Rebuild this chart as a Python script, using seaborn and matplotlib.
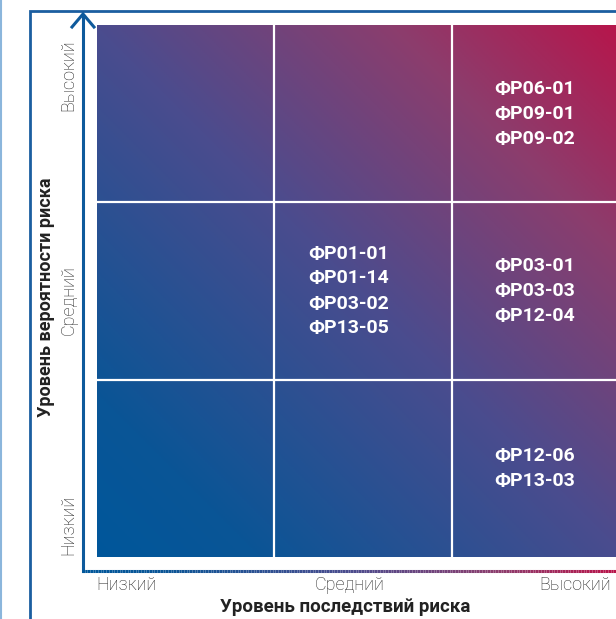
import numpy as np
import pandas as pd
import matplotlib.pyplot as plt
import seaborn as sns
from matplotlib.colors import LinearSegmentedColormap, ListedColormap
from matplotlib.collections import LineCollection

# Уровни риска
consequence_levels = ["Низкий", "Средний", "Высокий"]
probability_levels = ["Высокий", "Средний", "Низкий"]  # сверху вниз

# Риски в ячейках матрицы (строка = вероятность, столбец = последствия)
cell_risks = {
    ("Высокий", "Высокий"): ["ФР06-01", "ФР09-01", "ФР09-02"],
    ("Средний", "Средний"): ["ФР01-01", "ФР01-14", "ФР03-02", "ФР13-05"],
    ("Средний", "Высокий"): ["ФР03-01", "ФР03-03", "ФР12-04"],
    ("Низкий", "Высокий"): ["ФР12-06", "ФР13-03"],
}

counts = pd.DataFrame(0, index=probability_levels, columns=consequence_levels)
labels = pd.DataFrame("", index=probability_levels, columns=consequence_levels)
for (p, c), risks in cell_risks.items():
    counts.loc[p, c] = len(risks)
    labels.loc[p, c] = "\n".join(risks)

W, H = 616, 619
fig = plt.figure(figsize=(W / 100, H / 100), dpi=100)

# градиент фона: синий -> фиолетовый -> малиновый
grad_cmap = LinearSegmentedColormap.from_list(
    "risk", [(0.0, "#00579b"), (0.15, "#0a5596"), (0.5, "#4b4c8e"),
             (0.78, "#8c3d6d"), (1.0, "#b8144a")])

# область матрицы (в пикселях)
x0, y0, side = 97, 25, 532
ax = fig.add_axes([x0 / W, (H - y0 - side) / H, side / W, side / H])

sns.heatmap(counts, annot=labels, fmt="", cmap=ListedColormap([(0, 0, 0, 0)]),
            cbar=False, linewidths=0, ax=ax,
            annot_kws={"color": "white", "fontsize": 14, "fontweight": "bold",
                       "family": "Roboto", "linespacing": 1.5})

gx, gy = np.meshgrid(np.linspace(0, 1, 300), np.linspace(0, 1, 300))
ax.imshow((gx + (1 - gy)) / 2, cmap=grad_cmap, extent=[0, 3, 3, 0],
          aspect="auto", zorder=0)
ax.set_xlim(0, 3)
ax.set_ylim(3, 0)
ax.patch.set_visible(False)

for v in [1, 2]:
    ax.axvline(v, color="white", lw=1.6)
    ax.axhline(v, color="white", lw=1.6)

# подписи сдвинуты левее центра ячейки
for t in ax.texts:
    x, y = t.get_position()
    if 1 < x < 2:
        t.set_x(x - 0.08)
    elif x > 2:
        t.set_x(x - 0.03)

ax.set_xticks([0.164, 1.427, 2.696])
ax.set_xticklabels(consequence_levels)
ax.set_yticks([0.282, 1.551, 2.82])
ax.set_yticklabels(probability_levels, rotation=90, va="center")
ax.tick_params(length=0, pad=14, labelsize=13, labelcolor="#262626")
for lab in ax.get_xticklabels() + ax.get_yticklabels():
    lab.set_family("Roboto")
    lab.set_fontweight("light")
ax.set_xlabel("")
ax.set_ylabel("")
for s in ax.spines.values():
    s.set_visible(False)

# оверлей для рамки и стрелок (координаты в пикселях)
ov = fig.add_axes([0, 0, 1, 1], zorder=-1)
ov.set_xlim(0, W)
ov.set_ylim(H, 0)
ov.axis("off")

ov.plot([1, 1], [0, H], color="#8bb6dc", lw=1.5)
ov.plot([30, 30, W], [H, 11, 11], color="#1b5ea0", lw=2, solid_joinstyle="miter")
ov.plot([83, 83], [571, 15], color="#0e5a9c", lw=2.2)
ov.plot([72, 83, 94], [27, 14, 27], color="#0e5a9c", lw=2.2, solid_joinstyle="miter")

xs = np.linspace(82, W, 200)
segs = [[(xs[i], 571), (xs[i + 1], 571)] for i in range(len(xs) - 1)]
lc = LineCollection(segs, colors=grad_cmap(np.linspace(0, 1, len(segs))), lw=2.2)
ov.add_collection(lc)

fig.text(345 / W, 1 - 607 / H, "Уровень последствий риска", ha="center", va="center",
         fontsize=13.5, fontweight="bold", color="#222222", family="Roboto")
fig.text(46 / W, 1 - 297 / H, "Уровень вероятности риска", ha="center", va="center",
         rotation=90, fontsize=13, fontweight="bold", color="#222222", family="Roboto")

fig.savefig("out.png", dpi=100)
